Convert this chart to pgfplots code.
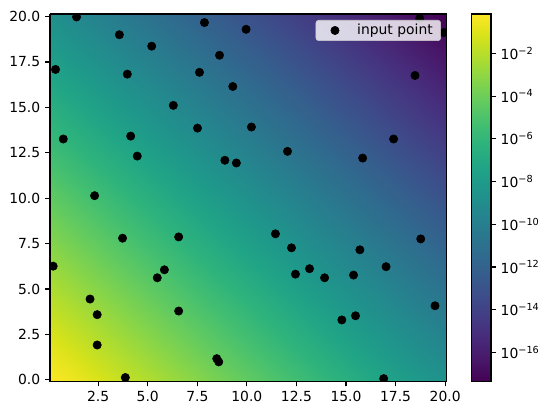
\documentclass[border=0pt]{standalone}
\usepackage{fontspec}
\setmainfont{DejaVu Sans}
\usepackage{pgfplots}
\usepackage{pgfplotstable}
\pgfplotsset{compat=1.18}
% log10 of the field on an 11 x 11 grid (x varies fastest)
\pgfplotstableread{
x y g
0.07 -0.09 0.01
2 -0.09 -0.83
4 -0.09 -1.70
6 -0.09 -2.57
8 -0.09 -3.43
10 -0.09 -4.30
12 -0.09 -5.17
14 -0.09 -6.04
16 -0.09 -6.91
18 -0.09 -7.78
20.09 -0.09 -8.69
0.07 2 -0.90
2 2 -1.74
4 2 -2.61
6 2 -3.48
8 2 -4.34
10 2 -5.21
12 2 -6.08
14 2 -6.95
16 2 -7.82
18 2 -8.69
20.09 2 -9.60
0.07 4 -1.77
2 4 -2.61
4 4 -3.48
6 4 -4.35
8 4 -5.21
10 4 -6.08
12 4 -6.95
14 4 -7.82
16 4 -8.69
18 4 -9.56
20.09 4 -10.47
0.07 6 -2.64
2 6 -3.48
4 6 -4.35
6 6 -5.22
8 6 -6.08
10 6 -6.95
12 6 -7.82
14 6 -8.69
16 6 -9.56
18 6 -10.43
20.09 6 -11.34
0.07 8 -3.50
2 8 -4.34
4 8 -5.21
6 8 -6.08
8 8 -6.94
10 8 -7.81
12 8 -8.68
14 8 -9.55
16 8 -10.42
18 8 -11.29
20.09 8 -12.20
0.07 10 -4.37
2 10 -5.21
4 10 -6.08
6 10 -6.95
8 10 -7.81
10 10 -8.68
12 10 -9.55
14 10 -10.42
16 10 -11.29
18 10 -12.16
20.09 10 -13.07
0.07 12 -5.24
2 12 -6.08
4 12 -6.95
6 12 -7.82
8 12 -8.68
10 12 -9.55
12 12 -10.42
14 12 -11.29
16 12 -12.16
18 12 -13.03
20.09 12 -13.94
0.07 14 -6.11
2 14 -6.95
4 14 -7.82
6 14 -8.69
8 14 -9.55
10 14 -10.42
12 14 -11.29
14 14 -12.16
16 14 -13.03
18 14 -13.90
20.09 14 -14.81
0.07 16 -6.98
2 16 -7.82
4 16 -8.69
6 16 -9.56
8 16 -10.42
10 16 -11.29
12 16 -12.16
14 16 -13.03
16 16 -13.90
18 16 -14.77
20.09 16 -15.68
0.07 18 -7.85
2 18 -8.69
4 18 -9.56
6 18 -10.43
8 18 -11.29
10 18 -12.16
12 18 -13.03
14 18 -13.90
16 18 -14.77
18 18 -15.64
20.09 18 -16.55
0.07 20.14 -8.78
2 20.14 -9.62
4 20.14 -10.49
6 20.14 -11.36
8 20.14 -12.22
10 20.14 -13.09
12 20.14 -13.96
14 20.14 -14.83
16 20.14 -15.70
18 20.14 -16.57
20.09 20.14 -17.48
}\fieldtab
\begin{document}
\begin{tikzpicture}[font=\fontsize{10}{12}\selectfont]
\useasboundingbox (-36pt,-24.8pt) rectangle (359.3pt,274.7pt);
\begin{axis}[
  view={0}{90},
  scale only axis, width=285.8pt, height=264.6pt,
  at={(0,0)}, anchor=south west,
  xmin=0.07, xmax=20.09, ymin=-0.09, ymax=20.14, zmin=-18, zmax=1,
  axis on top,
  xtick={2.5,5,7.5,10,12.5,15,17.5,20},
  xticklabels={2.5,5.0,7.5,10.0,12.5,15.0,17.5,20.0},
  ytick={0,2.5,5,7.5,10,12.5,15,17.5,20},
  yticklabels={0.0,2.5,5.0,7.5,10.0,12.5,15.0,17.5,20.0},
  ztick=\empty,
  xtick pos=left, ytick pos=left,
  tick align=outside, major tick length=3.5pt,
  tick style={black, line width=0.8pt},
  axis line style={black, line width=0.8pt},
  colormap/viridis,
  point meta min=-17.36, point meta max=-0.16,
  colorbar,
  colorbar shift/.style={xshift=18pt},
  colorbar style={
    at={(parent axis.north east)}, anchor=north west,
    scale only axis, width=13.7pt, height=264.6pt,
    ytick={-16,-14,-12,-10,-8,-6,-4,-2},
    yticklabels={10\textsuperscript{−16},10\textsuperscript{−14},10\textsuperscript{−12},10\textsuperscript{−10},10\textsuperscript{−8},10\textsuperscript{−6},10\textsuperscript{−4},10\textsuperscript{−2}},
    ytick pos=right, yticklabel pos=right,
    tick align=outside, major tick length=3.5pt,
    tick style={black, line width=0.8pt},
    axis line style={black, line width=0.8pt},
    yticklabel style={font=\fontsize{10}{12}\selectfont},
  },
  clip marker paths=true,
  legend style={at={(1,1)}, anchor=north east, xshift=-4.3pt, yshift=-4.3pt,
    draw=black!20, fill=white, fill opacity=0.8, text opacity=1, draw opacity=1,
    rounded corners=2pt, font=\fontsize{10}{12}\selectfont,
    inner xsep=3.7pt, inner ysep=0.8pt},
  legend cell align=left,
]
\addplot3[surf, shader=interp, mesh/rows=11, mesh/cols=11, point meta=\thisrow{g}, forget plot]
  table[x=x, y=y, z=g] {\fieldtab};
\addplot3[only marks, mark=*, mark size=3pt, black, mark options={draw=black, fill=black},
  legend image code/.code={
    \path[draw=none] (0pt,0pt) -- (24pt,0pt);
    \draw[only marks, fill opacity=1, draw opacity=1]
      plot coordinates {(10pt,0pt)};
  }]
  coordinates {
  (1.41,19.98,0) (3.57,19.00,0) (5.20,18.37,0) (7.86,19.67,0) (9.96,19.30,0)
  (0.35,17.09,0) (3.97,16.83,0) (8.62,17.87,0) (7.61,16.93,0) (9.29,16.15,0)
  (6.29,15.11,0) (7.51,13.86,0) (10.23,13.92,0) (0.74,13.26,0) (4.14,13.42,0)
  (4.47,12.32,0) (8.89,12.09,0) (9.47,11.94,0) (2.32,10.14,0)
  (18.72,19.89,0) (19.93,19.12,0) (18.48,16.76,0) (12.05,12.58,0) (17.40,13.26,0)
  (15.84,12.21,0)
  (3.73,7.80,0) (6.56,7.87,0) (0.23,6.26,0) (5.84,6.06,0) (5.48,5.62,0)
  (2.09,4.45,0) (2.45,3.59,0) (6.56,3.79,0) (2.45,1.92,0) (3.87,0.13,0)
  (8.48,1.17,0) (8.58,0.99,0)
  (11.44,8.04,0) (12.25,7.27,0) (12.45,5.82,0) (13.16,6.12,0) (13.92,5.62,0)
  (15.70,7.16,0) (15.38,5.77,0) (17.02,6.23,0) (18.77,7.76,0) (19.49,4.08,0)
  (14.79,3.30,0) (15.48,3.53,0) (16.90,0.07,0)
  };
\addlegendentry{input point}
\end{axis}
\end{tikzpicture}
\end{document}
